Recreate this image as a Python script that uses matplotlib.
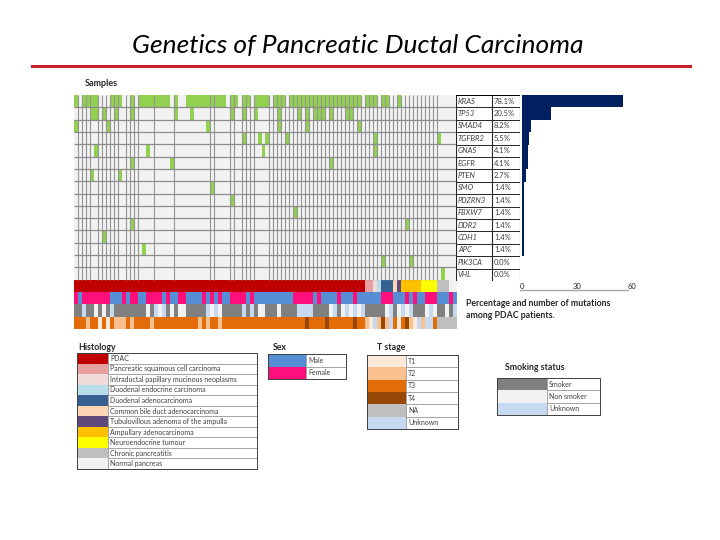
import numpy as np
import matplotlib.pyplot as plt
from matplotlib.colors import to_rgb
from matplotlib.lines import Line2D

plt.rcParams['font.family'] = ['Lato', 'DejaVu Sans']

# genes (rows of the oncoprint) and the mutation table on the right
genes = ["KRAS", "TP53", "SMAD4", "TGFBR2", "GNAS", "EGFR", "PTEN", "SMO",
         "PDZRN3", "FBXW7", "DDR2", "CDH1", "APC", "PIK3CA", "VHL"]
pct_labels = ["78.1%", "20.5%", "8.2%", "5.5%", "4.1%", "4.1%", "2.7%", "1.4%",
              "1.4%", "1.4%", "1.4%", "1.4%", "1.4%", "0.0%", "0.0%"]
mut_counts = [55, 16, 5, 4, 3, 3, 2, 1, 1, 1, 1, 1, 1, 0, 0]

n_samples = 96

# mutated sample indices per gene
kras = [0, 2, 3, 4, 5, 9, 10, 11, 14, 16, 17, 18, 19, 20, 21, 22, 23, 25,
        28, 29, 30, 31, 32, 33, 34, 35, 36, 37, 39, 40, 42, 43, 45, 46, 47, 48,
        50, 51, 52, 54, 55, 56, 57, 58, 59, 60, 61, 62, 63, 64, 65, 66, 67, 68,
        69, 70, 71, 73, 74, 75, 77, 78, 81]
tp53 = [4, 5, 7, 10, 14, 25, 29, 39, 42, 45, 51, 56, 58, 60, 61, 62, 64, 68, 69]
smad4 = [0, 8, 33, 51, 58, 71]
tgfbr2 = [42, 46, 48, 53, 75, 91]
gnas = [5, 18, 47, 75]
egfr = [14, 24, 64]
pten = [4, 11]
smo = [34]
pdzrn3 = [39]
fbxw7 = [55]
ddr2 = [14, 83]
cdh1 = [7]
apc = [17]
pik3ca = [77, 84]
vhl = [92]
mutations = [kras, tp53, smad4, tgfbr2, gnas, egfr, pten, smo, pdzrn3,
             fbxw7, ddr2, cdh1, apc, pik3ca, vhl]

# sample annotations, one code per sample
histology = ("PPPPPPPPPP" "PPPPPPPPPP" "PPPPPPPPPP" "PPPPPPPPPP" "PPPPPPPPPP"
             "PPPPPPPPPP" "PPPPPPPPPP" "PPPSSIEDDD" "BVAAAAANNN" "NCCCOO")
sex = ("FMFFFFFFFM" "MMFMFFMMFF" "FFMFMMFFMM" "MMFMFMFMMF" "FFFMFMMMMM"
       "MMMMMFFFFF" "MFMMMMFMMM" "FMMMMMMFFF" "MMMFMFMMFF" "FMMMFM")
smoking = ("GGUGGNGNGU" "GGGGGGGGNG" "UNUGNGNNGG" "GGGUNUNGGG" "GGUGUGNNGG"
           "GNGGGGUUUU" "GGGGNUGNUN" "UNUGGGGGNU" "GNUNUGGGNU" "NGGNGU")
t_stage = ("3332331313" "2223233332" "3333333333" "3232332333" "3333333333"
           "3333333343" "3334333333" "43321U242U" "313421U2UU" "3XXXXX")

hist_labels = ["PDAC", "Pancreatic squamous cell carcinoma",
               "Intraductal papillary mucinous neoplasms",
               "Duodenal endocrine carcinoma", "Duodenal adenocarcinoma",
               "Common bile duct adenocarcinoma",
               "Tubulovillous adenoma of the ampulla",
               "Ampullary adenocarcinoma", "Neuroendocrine tumour",
               "Chronic pancreatitis", "Normal pancreas"]
hist_codes = "PSIEDBVANCO"
hist_colors = ["#C00000", "#E6A0A0", "#F2DCDB", "#B7DEE8", "#366092", "#FCD5B4",
               "#604A7B", "#FFC000", "#FFFF00", "#BFBFBF", "#F2F2F2"]
sex_labels = ["Male", "Female"]
sex_codes = "MF"
sex_colors = ["#558ED5", "#FF0F7B"]
t_labels = ["T1", "T2", "T3", "T4", "NA", "Unknown"]
t_codes = "1234XU"
t_colors = ["#FDE9D9", "#FAC090", "#E36C09", "#974806", "#BFBFBF", "#C6D9F1"]
smoke_labels = ["Smoker", "Non smoker", "Unknown"]
smoke_codes = "GNU"
smoke_colors = ["#808080", "#F2F2F2", "#C6D9F1"]

# column boundaries drawn with a dark line in the mutation grid
dark_bounds = [1, 2, 3, 4, 6, 7, 8, 9, 10, 11, 13, 14, 15, 16, 20, 25, 34, 35,
               39, 40, 42, 43, 44, 45] + list(range(49, 92))

W, H = 720, 540
fig = plt.figure(figsize=(7.2, 5.4), dpi=100)


def px_axes(x0, y0, x1, y1):
    ax = fig.add_axes([x0 / W, 1 - y1 / H, (x1 - x0) / W, (y1 - y0) / H])
    ax.set_axis_off()
    return ax


# title and red rule
fig.text(0.497, 1 - 46 / H, "Genetics of Pancreatic Ductal Carcinoma",
         style='italic', fontsize=19, ha='center', va='center',
         fontweight='normal', color='black')
fig.add_artist(Line2D([32 / W, 690 / W], [1 - 66 / H] * 2, color='#C8202A', lw=2.2))
fig.text(85 / W, 1 - 84 / H, "Samples", fontsize=6.5, fontweight='bold',
         va='center', color='#262626')

# ---- oncoprint grid
green = to_rgb("#92D050")
bg = to_rgb("#F2F2F2")
img = np.zeros((len(genes) + 4, n_samples, 3))
for i, cols in enumerate(mutations):
    img[i, :] = bg
    img[i, cols] = green
for r, (codes, keys, cols) in enumerate([(histology, hist_codes, hist_colors),
                                         (sex, sex_codes, sex_colors),
                                         (smoking, smoke_codes, smoke_colors),
                                         (t_stage, t_codes, t_colors)]):
    for j, c in enumerate(codes):
        img[len(genes) + r, j] = to_rgb(cols[keys.index(c)])

ax = px_axes(74, 95, 457, 329)
ax.imshow(img, extent=(0, n_samples, len(genes) + 4, 0), aspect='auto',
          interpolation='nearest')
ax.vlines(dark_bounds, 0, len(genes), color='#959595', lw=0.8)
ax.hlines(range(1, len(genes)), 0, n_samples, color='#8c8c8c', lw=0.9)
ax.set_xlim(0, n_samples)
ax.set_ylim(len(genes) + 4, 0)

# ---- gene / percentage table
axt = px_axes(456, 95, 520, 281)
axt.set_xlim(0, 64)
axt.set_ylim(len(genes), 0)
for i, (g, p) in enumerate(zip(genes, pct_labels)):
    axt.text(2, i + 0.5, g, style='italic', fontsize=5.5, va='center', color='#404040')
    axt.text(38, i + 0.5, p, fontsize=5.5, va='center', color='#404040')
axt.hlines(range(0, len(genes) + 1), 0, 64, color='#262626', lw=0.7)
axt.vlines([0, 36, 64], 0, len(genes), color='#262626', lw=0.8)
axt.hlines([0], 0, 64, color='black', lw=1.4)

# ---- bar chart of mutation counts
axb = fig.add_axes([522 / W, 1 - 281 / H, 110 / W, 186 / H])
axb.barh(range(len(genes)), mut_counts, height=1.0, color='#002060')
axb.set_ylim(len(genes) - 0.5, -0.5)
axb.set_xlim(0, 60)
axb.set_xticks([0, 30, 60])
axb.set_yticks([])
axb.tick_params(axis='x', length=0, pad=1.5, labelsize=5.5, labelcolor='#262626')
for s in axb.spines.values():
    s.set_visible(False)
axb.plot([-0.02, 0.96], [-0.05, -0.05], transform=axb.transAxes, clip_on=False,
         color='#a6a6a6', lw=1.0)
fig.text(466 / W, 1 - 303 / H, "Percentage and number of mutations",
         fontsize=6.3, fontweight='bold', va='center', color='#262626')
fig.text(466 / W, 1 - 316 / H, "among PDAC patients.",
         fontsize=6.3, fontweight='bold', va='center', color='#262626')


# ---- legend tables
def legend_table(box, sw_right, title, title_xy, labels, colors):
    x0, y0, x1, y1 = box
    axl = px_axes(x0, y0, x1, y1)
    n = len(labels)
    axl.set_xlim(0, x1 - x0)
    axl.set_ylim(n, 0)
    sw = sw_right - x0
    axl.barh(np.arange(n) + 0.5, sw, height=1.0, left=0, color=colors)
    for i, lab in enumerate(labels):
        axl.text(sw + 2, i + 0.5, lab, fontsize=5, va='center', color='#404040')
    axl.hlines(range(1, n), sw, x1 - x0, color='#7f7f7f', lw=0.5)
    axl.vlines([sw], 0, n, color='#7f7f7f', lw=0.5)
    axl.plot([0, x1 - x0, x1 - x0, 0, 0], [0, 0, n, n, 0], color='#404040',
             lw=0.7, clip_on=False)
    fig.text(title_xy[0] / W, 1 - title_xy[1] / H, title, fontsize=6.3,
             fontweight='bold', va='center', color='#262626')


legend_table((77, 353, 257, 469), 108, "Histology", (78, 347), hist_labels, hist_colors)
legend_table((268, 354, 346, 379), 306, "Sex", (273, 347), sex_labels, sex_colors)
legend_table((367, 355, 458, 429), 406, "T stage", (377, 347), t_labels, t_colors)
legend_table((497, 378, 600, 415), 547, "Smoking status", (505, 368),
             smoke_labels, smoke_colors)

fig.savefig("out.png", dpi=100)
